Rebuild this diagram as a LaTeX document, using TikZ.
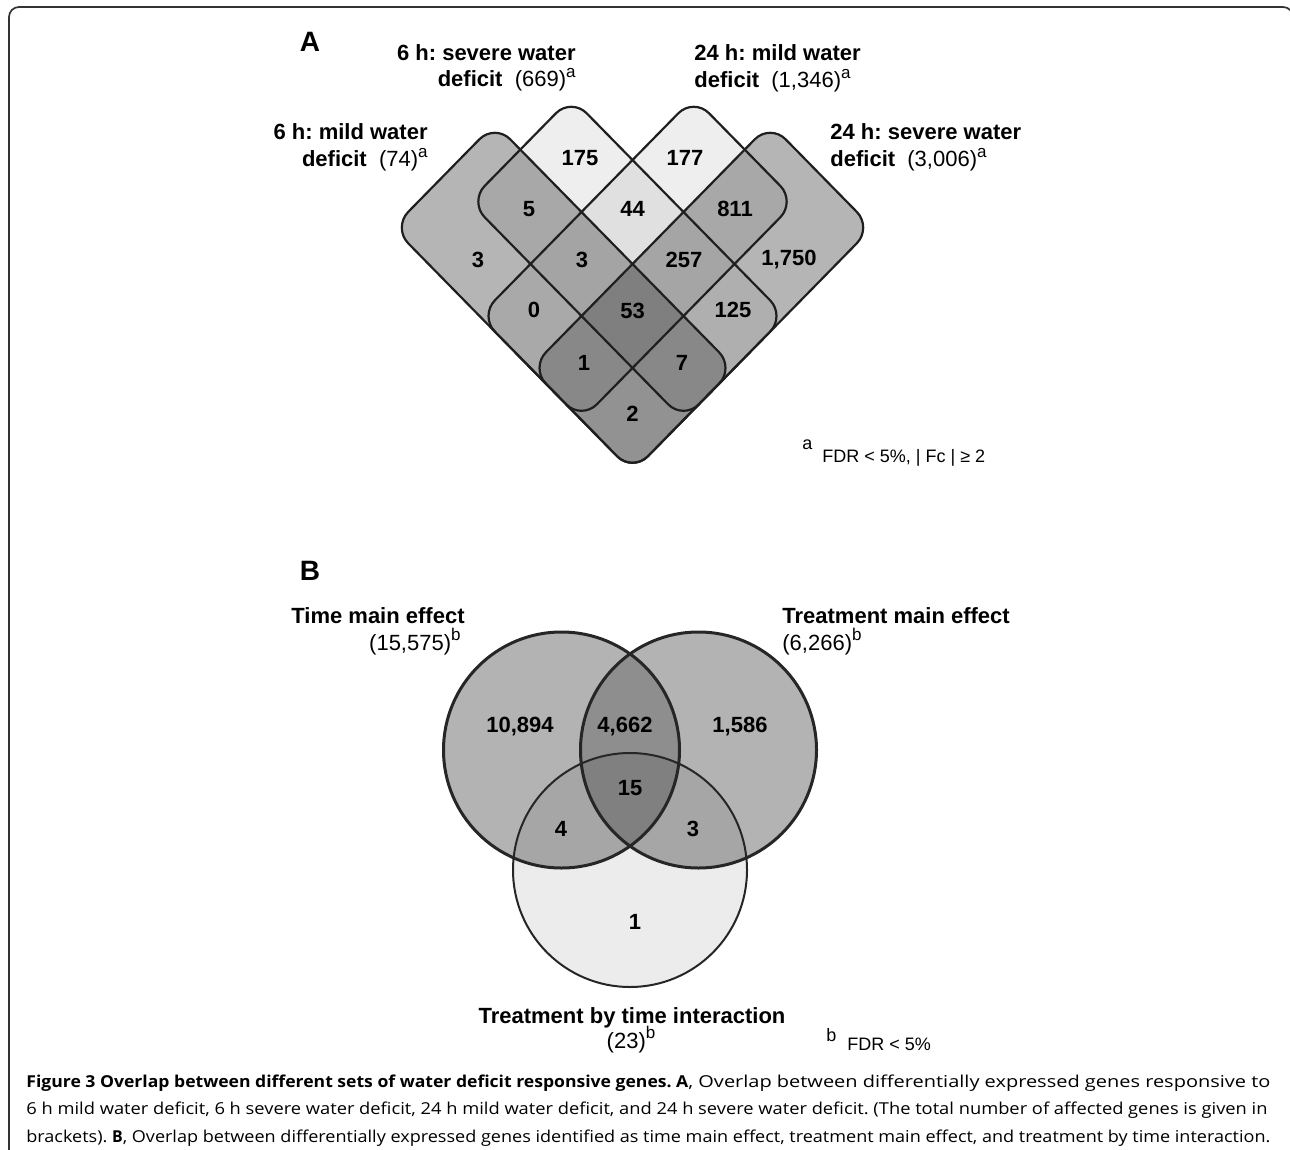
\documentclass[tikz,border=0pt]{standalone}
\usepackage{fontspec}
\setmainfont{Liberation Sans}
\newfontfamily\capfont[BoldFeatures={FakeStretch=0.88}]{Open Sans}
\usepackage{graphicx}
\frenchspacing
\definecolor{cA}{HTML}{B5B5B5}
\definecolor{cB}{HTML}{EEEEEE}
\definecolor{cC}{HTML}{EEEEEE}
\definecolor{cD}{HTML}{B5B5B5}
\definecolor{cAB}{HTML}{A8A8A8}
\definecolor{cAC}{HTML}{A9A9A9}
\definecolor{cAD}{HTML}{929292}
\definecolor{cBC}{HTML}{E0E0E0}
\definecolor{cBD}{HTML}{AFAFAF}
\definecolor{cCD}{HTML}{A8A8A8}
\definecolor{cABC}{HTML}{A4A4A4}
\definecolor{cABD}{HTML}{888888}
\definecolor{cACD}{HTML}{888888}
\definecolor{cBCD}{HTML}{A5A5A5}
\definecolor{cABCD}{HTML}{7F7F7F}
\definecolor{vL}{HTML}{B3B3B3}
\definecolor{vR}{HTML}{B3B3B3}
\definecolor{vB}{HTML}{ECECEC}
\definecolor{vLR}{HTML}{8E8E8E}
\definecolor{vLB}{HTML}{A6A6A6}
\definecolor{vRB}{HTML}{A6A6A6}
\definecolor{vLRB}{HTML}{808080}
\def\pA{(443.8,175.6) -- (494.8,123.6) -- (734.5,368) -- (632.5,472) -- (392.8,227.6) -- cycle}
\def\pB{(520.3,149.6) -- (571.3,97.6) -- (785.5,316) -- (683.5,420) -- (469.3,201.6) -- cycle}
\def\pC{(586.6,206.8) -- (693.7,97.6) -- (795.7,201.6) -- (581.5,420) -- (479.5,316) -- cycle}
\def\pD{(650.35,245.8) -- (770.2,123.6) -- (872.2,227.6) -- (632.5,472) -- (530.5,368) -- cycle}
\def\cL{(561.5,750) circle[radius=59pt]}
\def\cR{(698.5,750) circle[radius=59pt]}
\def\cBt{(630,870) circle[radius=58.5pt]}
\newcommand\supx[1]{\raisebox{0.42em}{\fontsize{8.5}{8.5}\selectfont #1}}
\begin{document}
\begin{tikzpicture}[x=0.5pt,y=-0.5pt,
  num/.style={font=\fontsize{11}{13}\selectfont\bfseries, inner sep=0pt},
  ttl/.style={font=\fontsize{11}{13}\selectfont, inner sep=0pt},
  foot/.style={font=\fontsize{9}{11}\selectfont, inner sep=0pt},
  panel/.style={font=\fontsize{14}{16}\selectfont\bfseries, inner sep=0pt},
  capn/.style={font=\capfont\fontsize{8.2}{9.5}\selectfont, inner sep=0pt, anchor=base west},
  outl/.style={draw=black!88, line width=1.1pt},
  thick circ/.style={draw=black!85, line width=1.5pt},
  thin circ/.style={draw=black!85, line width=1pt}]
\useasboundingbox (0,0) rectangle (1290,1150);
% frame
\draw[line width=0.85pt, draw=black!80, rounded corners=5pt] (9,1170) -- (9,7) -- (1293,7) -- (1293,1170);
% ---------- panel A ----------
\begin{scope}[rounded corners=11pt]
  \fill[cA] \pA; \fill[cB] \pB; \fill[cC] \pC; \fill[cD] \pD;
  \begin{scope}\clip \pA; \fill[cAB] \pB; \end{scope}
  \begin{scope}\clip \pA; \fill[cAC] \pC; \end{scope}
  \begin{scope}\clip \pA; \fill[cAD] \pD; \end{scope}
  \begin{scope}\clip \pB; \fill[cBC] \pC; \end{scope}
  \begin{scope}\clip \pB; \fill[cBD] \pD; \end{scope}
  \begin{scope}\clip \pC; \fill[cCD] \pD; \end{scope}
  \begin{scope}\clip \pA; \clip \pB; \fill[cABC] \pC; \end{scope}
  \begin{scope}\clip \pA; \clip \pB; \fill[cABD] \pD; \end{scope}
  \begin{scope}\clip \pA; \clip \pC; \fill[cACD] \pD; \end{scope}
  \begin{scope}\clip \pB; \clip \pC; \fill[cBCD] \pD; \end{scope}
  \begin{scope}\clip \pA; \clip \pB; \clip \pC; \fill[cABCD] \pD; \end{scope}
  \draw[outl] \pA; \draw[outl] \pB; \draw[outl] \pC; \draw[outl] \pD;
\end{scope}
\node[num] (a3l) at (478,260) {3};
\node[num] (a5) at (529,209) {5};
\node[num] (a175) at (580,158) {175};
\node[num] (a0) at (534,310) {0};
\node[num] (a3c) at (582,260) {3};
\node[num] (a44) at (632.5,209) {44};
\node[num] (a177) at (685,158) {177};
\node[num] (a1) at (584,363) {1};
\node[num] (a53) at (632.5,311) {53};
\node[num] (a257) at (684,260) {257};
\node[num] (a811) at (735,209) {811};
\node[num] (a2) at (632.5,414) {2};
\node[num] (a7) at (682,363) {7};
\node[num] (a125) at (733,310) {125};
\node[num] (a1750) at (789,260) {1,750};
\node[panel] (pA) at (310,42) {A};
\node[ttl, anchor=base east] (t6s1) at (576,61) {\textbf{6 h: severe water}};
\node[ttl, anchor=base east] (t6s2) at (576,87) {\textbf{deficit}\ \ (669)\supx{a}};
\node[ttl, anchor=base east] (t6m1) at (428,140) {\textbf{6 h: mild water}};
\node[ttl, anchor=base east] (t6m2) at (428,166.5) {\textbf{deficit}\ \ (74)\supx{a}};
\node[ttl, anchor=base west] (t24m1) at (694,61) {\textbf{24 h: mild water}};
\node[ttl, anchor=base west] (t24m2) at (694,88) {\textbf{deficit}\ \ (1,346)\supx{a}};
\node[ttl, anchor=base west] (t24s1) at (830,140) {\textbf{24 h: severe water}};
\node[ttl, anchor=base west] (t24s2) at (830,167) {\textbf{deficit}\ \ (3,006)\supx{a}};
\node[foot, anchor=base west] (fa) at (802,449) {a};
\node[foot, anchor=base west] (fat) at (822,462) {FDR < 5\%, | Fc | ≥ 2};
% ---------- panel B ----------
\fill[vL] \cL; \fill[vR] \cR; \fill[vB] \cBt;
\begin{scope}\clip \cL; \fill[vLR] \cR; \end{scope}
\begin{scope}\clip \cL; \fill[vLB] \cBt; \end{scope}
\begin{scope}\clip \cR; \fill[vRB] \cBt; \end{scope}
\begin{scope}\clip \cL; \clip \cR; \fill[vLRB] \cBt; \end{scope}
\draw[thin circ] \cBt;
\draw[thick circ] \cL;
\draw[thick circ] \cR;
\node[num] (b10894) at (520,727) {10,894};
\node[num] (b4662) at (625,727) {4,662};
\node[num] (b1586) at (740,727) {1,586};
\node[num] (b15) at (630,788) {15};
\node[num] (b4) at (561,829) {4};
\node[num] (b3) at (693,829) {3};
\node[num] (b1) at (635,922) {1};
\node[panel] (pB) at (310,571) {B};
\node[ttl, anchor=base east] (tme) at (465,623) {\textbf{Time main effect}};
\node[ttl, anchor=base east] (tmen) at (461,650) {(15,575)\supx{b}};
\node[ttl, anchor=base west] (trm) at (782,623) {\textbf{Treatment main effect}};
\node[ttl, anchor=base west] (trmn) at (782,650) {(6,266)\supx{b}};
\node[ttl, anchor=base] (tbt) at (632,1023) {\textbf{Treatment by time interaction}};
\node[ttl, anchor=base] (tbtn) at (631,1048) {(23)\supx{b}};
\node[foot, anchor=base west] (fb) at (826,1041) {b};
\node[foot, anchor=base west] (fbt) at (847,1050) {FDR < 5\%};
% ---------- caption ----------
\node[capn] (cap1) at (26,1087) {\resizebox{622pt}{\height}{\textbf{Figure 3 Overlap between different sets of water deficit responsive genes. A}, Overlap between differentially expressed genes responsive to}};
\node[capn] (cap2) at (26,1114.5) {\resizebox{620.5pt}{\height}{6 h mild water deficit, 6 h severe water deficit, 24 h mild water deficit, and 24 h severe water deficit. (The total number of affected genes is given in}};
\node[capn] (cap3) at (26,1142) {\resizebox{622pt}{\height}{brackets). \textbf{B}, Overlap between differentially expressed genes identified as time main effect, treatment main effect, and treatment by time interaction.}};
\end{tikzpicture}
\end{document}
